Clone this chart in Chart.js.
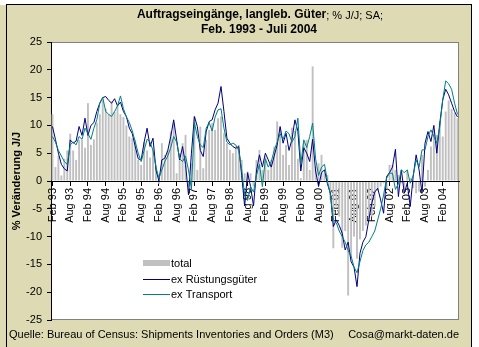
<!DOCTYPE html>
<html>
<head>
<meta charset="utf-8">
<script src="https://cdn.jsdelivr.net/npm/chart.js@4/dist/chart.umd.min.js"></script>
<style>
  html, body { margin: 0; padding: 0; background: #fff; }
  #wrap { position: relative; width: 479px; height: 347px; }
</style>
</head>
<body>
<div id="wrap"><canvas id="chart" width="479" height="347"></canvas></div>
<script>
// month labels Feb 93 .. Jul 04
const monthNames = ['Jan', 'Feb', 'Mär', 'Apr', 'Mai', 'Jun', 'Jul', 'Aug', 'Sep', 'Okt', 'Nov', 'Dez'];
const categories = [];
for (let k = 1; k < 1 + 138; k++) {
  const yr = 93 + Math.floor(k / 12);
  categories.push(monthNames[k % 12] + ' ' + String(yr % 100).padStart(2, '0'));
}

const yTicks = [-25, -20, -15, -10, -5, 0, 5, 10, 15, 20, 25];

// total, % J/J
const total = [
  12, 2.5, 4.5, 1, 4, 5.5, 8.5, 5.5, 3.8, 7.4, 7.4, 6,
  14, 6.5, 7.5, 10.5, 12, 14.5, 13, 12, 14.3, 12.5, 13.5, 12,
  11.5, 10, 8, 7.7, 7.4, 3.8, 2.9, 7, 5.5, 4.2, 5.6, 3,
  -0.5, 6.8, 4.7, 5.6, 8.9, 10.4, 1.4, 5, 6.8, 8.3, -1, 3.2,
  11.6, 2, 9.8, 2.3, 7.4, 9.2, 10.4, 9.2, 11.3, 11.6, 8.6, 6.8,
  5.6, 5, 6.2, 6.5, 3.8, 1.4, 1.7, 1.4, -1, 3.8, 5.6, 2,
  4.4, 2, 3.8, 6.2, 10.7, 9.6, 4.7, 6.5, 2.9, 9.6, 9, 4,
  0.5, 6.8, 7.4, 2, 20.6, 2.6, 3.2, 4.7, 1.4, 1.1, -3.4, -12.1,
  -4.6, -6.4, -12, -9, -20.6, -13.6, -10, -14, -10.5, -9, -8, -7,
  -6.4, -4.6, -1.8, -1, -0.4, -1.3, 2.9, 2.9, 2, 1.1, -0.4, -2.2,
  2, 0.5, -1.3, -2.2, -1.9, 4.7, -1, 2, 6.2, 8.9, 8.3, 10.7,
  8, 12.5, 14.5, 13, 12.2, 11.3
];

// ex Rüstungsgüter
const exDefense = [
  9.8, 7.5, 5, 3, 2.2, 1.8, 7.4, 6.8, 7.2, 9.8, 8.2, 11.3,
  8.2, 10, 10.5, 12.5, 14, 15, 15.2, 14.5, 14, 14.8, 13.5, 14.2,
  12.5, 11.6, 9.5, 8.5, 6.2, 4, 3.8, 7, 9.5, 6.2, 7.7, 2,
  0, 3.8, 4.1, 5.5, 8, 11, 7.4, 3.8, 6.2, 3, -2.5, 5,
  11.6, 9.8, 5.5, 4.4, 8.9, 10.7, 11, 12.8, 14, 17, 12.5, 7.7,
  6.8, 6.2, 5.9, 6.2, 1, -4.5, 1.5, -1, -4.5, 1.8, 4.7, 2.5,
  5, 3.8, 2.5, 4.5, 6.5, 9.8, 6.8, 8.6, 5.5, 7.5, 11, 9,
  1.8, 6, 5, 3.5, 7.5, 1.8, -1, 1.5, 2, -0.5, -2.2, -8.2,
  -7, -8, -9.4, -12.4, -11, -14.5, -15.5, -19, -13, -11, -10, -7,
  -4, -2, -1.3, -3.4, -5.8, 0.8, 1.5, 2.5, 5.7, -2.8, 2, -2.2,
  -0.4, -4.6, 0.8, 4.7, 2, -2.2, 6.8, 8.9, 7.1, 10, 5, 10.4,
  14.6, 16.5, 15.5, 14, 12.5, 11.5
];

// ex Transport
const exTransport = [
  8, 7, 5.5, 4.5, 3.5, 3, 6.5, 7, 6.5, 8, 7.5, 9.5,
  8.5, 7.5, 9.5, 11, 14, 15, 12.5, 12, 11.6, 12.5, 13.5, 15.3,
  13, 11.5, 10.5, 9, 7, 5, 3.5, 5.5, 7.5, 7, 5.5, 2.5,
  0.5, 2, 3.5, 4.5, 6, 8, 7, 4, 3.5, 4.5, 2, -1.5,
  10.5, 8, 6.5, 6, 9.5, 10.5, 9, 11.5, 12.8, 13, 9.5, 7,
  6.5, 6.8, 6.5, 5.5, 2, -2.5, -3.5, -1, -2, 1, 3, -1,
  4, 2.5, 3.5, 5.5, 7, 8.5, 7.5, 9, 8.5, 7, 8, 11.3,
  3, 7.4, 6, 8, 10.4, 4, 1, 2.5, 3, 0, -2.5, -7,
  -7.5, -9, -10, -11, -12.5, -13.5, -15.5, -16.5, -14.5, -12.5, -11.5, -11,
  -10, -9, -7, -5, -2.5, 0.5, 1.4, 1.4, -1.5, -0.5, 2, 1.5,
  2, -0.4, 1, 3.8, 2.5, 5.6, 5.6, 8, 9.2, 8, 6.8, 9.8,
  14.6, 18, 17.5, 16.5, 14, 12
];

const FONT = "'Liberation Sans', Arial, sans-serif";
Chart.defaults.font.family = FONT;
Chart.defaults.font.size = 11;
Chart.defaults.color = '#000';

// background, frame, zero line, title, legend, footer
const decor = {
  id: 'decor',
  beforeDraw(chart) {
    const { ctx, chartArea: a } = chart;
    ctx.save();
    ctx.fillStyle = '#fff';
    ctx.fillRect(0, 0, 479, 347);
    ctx.fillStyle = '#DEDBB4';
    ctx.fillRect(0, 5, 471, 342);
    ctx.fillStyle = '#000';
    ctx.fillRect(6, 4, 1, 343);
    ctx.fillRect(6, 4, 466, 1);
    ctx.fillRect(471, 4, 1, 343);
    ctx.fillStyle = '#fff';
    ctx.fillRect(a.left, a.top, a.width, a.height);
    ctx.strokeStyle = '#808080';
    ctx.lineWidth = 1;
    ctx.strokeRect(a.left + 0.5, a.top + 0.5, a.width - 1, a.height - 1);
    ctx.restore();
  },
  afterDatasetDraw(chart, args) {
    if (args.meta.type !== 'bar') return;
    const { ctx, chartArea: a } = chart;
    const y0 = Math.round(chart.scales.y.getPixelForValue(0)) + 0.5;
    ctx.save();
    ctx.strokeStyle = '#000';
    ctx.lineWidth = 1;
    ctx.beginPath();
    ctx.moveTo(a.left, y0);
    ctx.lineTo(a.right, y0);
    ctx.stroke();
    ctx.restore();
  },
  afterDraw(chart) {
    const ctx = chart.ctx;
    ctx.save();
    ctx.fillStyle = '#000';
    ctx.textBaseline = 'middle';

    // title line 1: bold + normal part
    const t1a = 'Auftragseingänge, langleb. Güter';
    const t1b = '; % J/J; SA;';
    ctx.font = 'bold 12px ' + FONT;
    const wa = ctx.measureText(t1a).width;
    ctx.font = '11px ' + FONT;
    const wb = ctx.measureText(t1b).width;
    let x = 260 - (wa + wb) / 2;
    ctx.textAlign = 'left';
    ctx.font = 'bold 12px ' + FONT;
    ctx.fillText(t1a, x, 15);
    ctx.font = '11px ' + FONT;
    ctx.fillText(t1b, x + wa, 15.5);
    ctx.font = 'bold 12px ' + FONT;
    ctx.textAlign = 'center';
    ctx.fillText('Feb. 1993 - Juli 2004', 259, 29.5);

    // legend
    ctx.font = '11px ' + FONT;
    ctx.textAlign = 'left';
    ctx.fillStyle = '#C0C0C0';
    ctx.fillRect(143, 260, 27, 6);
    ctx.fillStyle = '#000';
    ctx.fillText('total', 171, 263.5);
    ctx.lineWidth = 1;
    ctx.strokeStyle = '#000080';
    ctx.beginPath(); ctx.moveTo(143, 279.5); ctx.lineTo(170, 279.5); ctx.stroke();
    ctx.fillText('ex Rüstungsgüter', 171, 279.5);
    ctx.strokeStyle = '#008080';
    ctx.beginPath(); ctx.moveTo(143, 294.5); ctx.lineTo(170, 294.5); ctx.stroke();
    ctx.fillText('ex Transport', 171, 294.5);

    // footer
    ctx.fillText('Quelle: Bureau of Census: Shipments Inventories and Orders (M3)', 9, 335);
    ctx.textAlign = 'right';
    ctx.fillText('Cosa@markt-daten.de', 459, 335);
    ctx.restore();
  }
};

new Chart(document.getElementById('chart'), {
  type: 'bar',
  data: {
    labels: categories,
    datasets: [
      {
        type: 'bar',
        label: 'total',
        data: total,
        backgroundColor: '#C0C0C0',
        borderWidth: 0,
        barPercentage: 1,
        categoryPercentage: 0.65,
        order: 3
      },
      {
        type: 'line',
        label: 'ex Rüstungsgüter',
        data: exDefense,
        borderColor: '#000080',
        borderWidth: 1,
        pointRadius: 0,
        fill: false,
        tension: 0,
        order: 2
      },
      {
        type: 'line',
        label: 'ex Transport',
        data: exTransport,
        borderColor: '#008080',
        borderWidth: 1,
        pointRadius: 0,
        fill: false,
        tension: 0,
        order: 1
      }
    ]
  },
  options: {
    responsive: false,
    animation: false,
    devicePixelRatio: 1,
    layout: { padding: { left: 0, right: 20, top: 42, bottom: 27 } },
    plugins: {
      legend: { display: false },
      title: { display: false },
      tooltip: { enabled: false }
    },
    scales: {
      x: {
        position: { y: 0 },
        grid: {
          drawOnChartArea: false,
          offset: false,
          tickLength: 4,
          color: (c) => (c.index % 6 === 0 ? '#000' : 'rgba(0,0,0,0)')
        },
        border: { display: true, color: '#000' },
        ticks: {
          autoSkip: false,
          minRotation: 90,
          maxRotation: 90,
          padding: 3,
          font: { size: 11 },
          callback: (v, i) => (i % 6 === 0 ? categories[i] : '')
        },
        afterFit(scale) {
          scale.paddingLeft = 0; scale.paddingRight = 0;
          scale.paddingTop = 0; scale.paddingBottom = 0;
        }
      },
      y: {
        min: -25,
        max: 25,
        afterBuildTicks(scale) {
          scale.ticks = yTicks.map(v => ({ value: v }));
        },
        grid: { drawOnChartArea: false, tickLength: 4, color: '#000' },
        border: { display: true, color: '#000' },
        ticks: { padding: 5, font: { size: 11 } },
        title: {
          display: true,
          text: '% Veränderung J/J',
          font: { size: 11, weight: 'bold' },
          padding: { top: 10, bottom: 0 }
        },
        afterFit(scale) {
          scale.width = 51;
          scale.paddingTop = 0; scale.paddingBottom = 0;
        }
      }
    }
  },
  plugins: [decor]
});
</script>
</body>
</html>
